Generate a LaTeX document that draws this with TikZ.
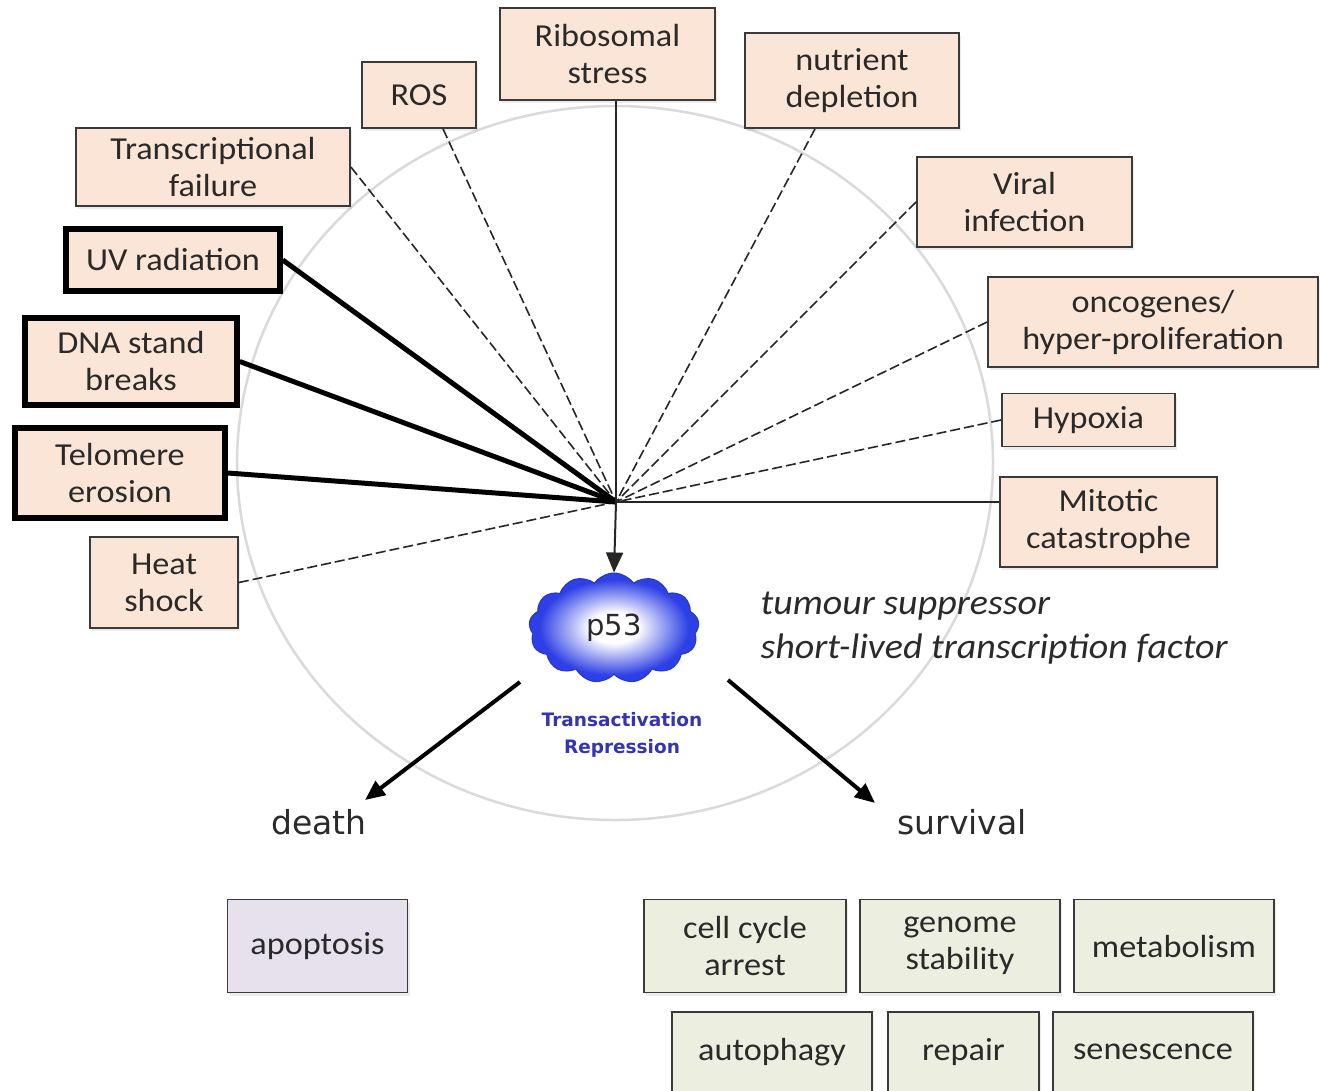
\documentclass[tikz,border=0pt]{standalone}
\usepackage{fontspec}
\setmainfont{Carlito}[FakeStretch=1.07]
\newfontfamily\dvsans{DejaVu Sans}
\usetikzlibrary{arrows.meta,shapes.symbols,shadows}

\definecolor{peach}{HTML}{FBE5D6}
\definecolor{sage}{HTML}{ECEFE0}
\definecolor{lilac}{HTML}{E6E1EC}
\definecolor{edge}{HTML}{3A3A3A}
\definecolor{ring}{HTML}{DADADA}
\definecolor{cloudblue}{HTML}{2D3FE6}
\definecolor{labelblue}{HTML}{3434B4}
\definecolor{ink}{HTML}{2A2A2A}

% white core fading into strong blue towards the puffs
\pgfdeclareradialshading{pcloud}{\pgfpoint{0bp}{0bp}}{%
  color(0bp)=(white); color(7bp)=(white); color(22bp)=(cloudblue); color(50bp)=(cloudblue)}

\begin{document}
\begin{tikzpicture}[x=1pt,y=-1pt,
  boxtext/.style={font=\fontsize{32}{37}\selectfont, text=ink, align=center, inner sep=0pt},
  softshadow/.style={drop shadow={shadow xshift=2pt, shadow yshift=-3pt, opacity=0.15}},
  stressor/.style={boxtext, draw=edge, line width=1.8pt, fill=peach, softshadow},
  keystressor/.style={stressor, draw=black, line width=5.5pt},
  outcome/.style={boxtext, draw=edge, line width=1.8pt, fill=sage, softshadow},
  deathbox/.style={outcome, fill=lilac},
  weak/.style={draw=black!85, line width=1.6pt, dash pattern=on 10pt off 4pt},
  link/.style={draw=black!85, line width=2pt},
  strong/.style={draw=black, line width=5pt},
  fate/.style={draw=black, line width=4pt, -{Triangle[length=20pt,width=17pt]}},
  fatelabel/.style={font=\dvsans\fontsize{33}{33}\selectfont, text=ink},
]
\useasboundingbox (0,0) rectangle (1324,1090);
\fill[white] (0,0) rectangle (1324,1090);
\clip (0,0) rectangle (1324,1090);

% faint ring behind the stress signals
\draw[ring, line width=2.5pt] (615,463) ellipse [x radius=378, y radius=357];

% convergence point of all stress signals
\coordinate (hub) at (616,502);

% stress signals
\node[stressor, minimum width=215pt, minimum height=92pt] (rib)   at (607.5,54)   {Ribosomal\\stress};
\node[stressor, minimum width=114pt, minimum height=66pt] (ros)   at (419,95)     {ROS};
\node[stressor, minimum width=214pt, minimum height=95pt] (nut)   at (852,80.5)   {nutrient\\depletion};
\node[stressor, minimum width=274pt, minimum height=78pt] (trans) at (213,167)    {Transcriptional\\failure};
\node[stressor, minimum width=215pt, minimum height=90pt] (viral) at (1024.5,202) {Viral\\infection};
\node[keystressor, minimum width=214pt, minimum height=62pt] (uv) at (173,260)   {UV radiation};
\node[stressor, minimum width=330pt, minimum height=90pt] (onco)  at (1153,322)   {oncogenes/\\hyper-proliferation};
\node[keystressor, minimum width=212pt, minimum height=87pt] (dna) at (131,361.5) {DNA stand\\breaks};
\node[stressor, minimum width=173pt, minimum height=53pt] (hyp)   at (1088.5,420) {Hypoxia};
\node[keystressor, minimum width=210pt, minimum height=90pt] (tel) at (120,473)   {Telomere\\erosion};
\node[stressor, minimum width=217pt, minimum height=90pt] (mit)   at (1108.5,522) {Mitotic\\catastrophe};
\node[stressor, minimum width=148pt, minimum height=91pt] (heat)  at (164,582.5)  {Heat\\shock};

% signal lines into the hub
\draw[weak] ([xshift=24pt]ros.south) -- (hub);
\draw[weak] ([xshift=-37pt]nut.south) -- (hub);
\draw[weak] (trans.east) -- (hub);
\draw[weak] (viral.west) -- (hub);
\draw[weak] (onco.west) -- (hub);
\draw[weak] (hyp.west) -- (hub);
\draw[weak] (heat.east) -- (hub);
\draw[strong] (uv.east) -- (hub);
\draw[strong] (dna.east) -- (hub);
\draw[strong] (tel.east) -- (hub);
\draw[link] (rib.south -| hub) -- (hub);
\draw[link] (hub) -- (hub -| mit.west);

% p53
\node[cloud, cloud puffs=13, cloud puff arc=110, cloud ignores aspect,
      minimum width=170pt, minimum height=110pt, inner sep=0pt,
      draw=cloudblue!85!black, line width=1pt, shade, shading=pcloud,
      font=\dvsans\fontsize{29}{29}\selectfont, text=ink] (p53) at (614,628) {p53};
\draw[link, -{Triangle[length=20pt,width=17pt]}] (hub) -- (p53.north);

\node[font=\dvsans\bfseries\fontsize{18.5}{27}\selectfont, text=labelblue, align=center]
  (mode) at (622,735) {Transactivation\\Repression};

\node[font=\itshape\fontsize{35.5}{44}\selectfont, text=ink, align=left, anchor=west]
  (role) at (757,628) {tumour suppressor\\short-lived transcription factor};

% cell fates
\node[fatelabel] (death) at (319,822) {death};
\node[fatelabel] (surv)  at (962,822) {survival};
\draw[fate] ([shift={(-94,54)}]p53.center) -- ([shift={(46,-22)}]death.center);
\draw[fate] ([shift={(114,52)}]p53.center) -- ([shift={(-87,-19)}]surv.center);

% outcomes
\node[deathbox, minimum width=180pt, minimum height=93pt] (apop) at (317.5,946) {apoptosis};
\node[outcome, minimum width=202pt, minimum height=93pt] (cca)  at (745,946)  {cell cycle\\arrest};
\node[outcome, minimum width=200pt, minimum height=93pt] (gen)  at (960,946)  {genome\\stability};
\node[outcome, minimum width=200pt, minimum height=93pt] (met)  at (1174,946) {metabolism};
\node[outcome, minimum width=200pt, minimum height=80pt] (aut)  at (772,1052)  {autophagy};
\node[outcome, minimum width=151pt, minimum height=80pt] (rep)  at (963.5,1052) {repair};
\node[outcome, minimum width=200pt, minimum height=80pt] (sen)  at (1153,1052) {senescence};
\end{tikzpicture}
\end{document}
